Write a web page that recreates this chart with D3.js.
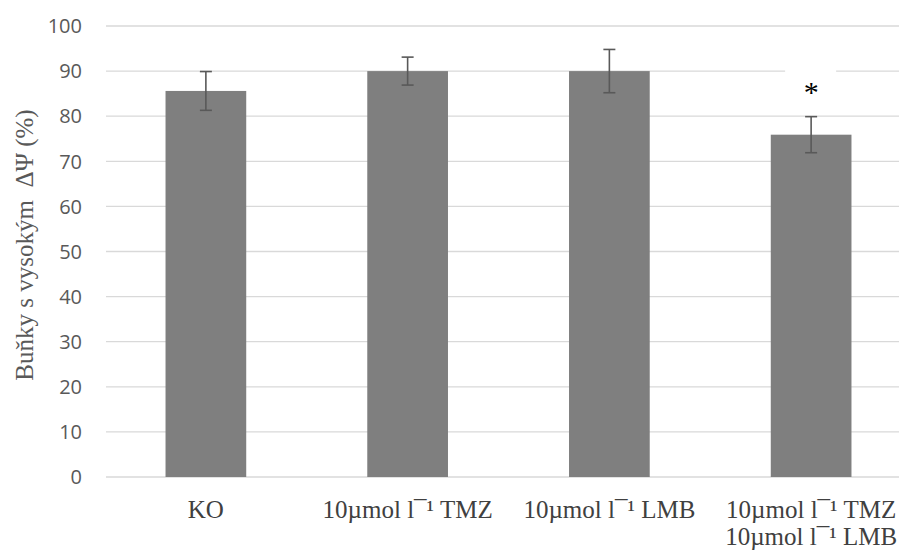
<!DOCTYPE html>
<html>
<head>
<meta charset="utf-8">
<script src="https://cdn.jsdelivr.net/npm/d3@7"></script>
<style>
  body { margin: 0; background: #fff; }
  svg { display: block; }
</style>
</head>
<body>
<div id="chart"></div>
<script>
const width = 899, height = 553;
const categories = ["KO", "TMZ", "LMB", "TMZ+LMB"];
const labels = [
  ["KO"],
  ["10µmol l¯¹ TMZ"],
  ["10µmol l¯¹ LMB"],
  ["10µmol l¯¹ TMZ", "10µmol l¯¹ LMB"]
];
const values = [85.6, 90.0, 90.0, 75.9];
const errors = [4.3, 3.1, 4.8, 4.0];
const stars = ["", "", "", "*"];
const yTicks = [0, 10, 20, 30, 40, 50, 60, 70, 80, 90, 100];

const svg = d3.select("#chart").append("svg")
  .attr("width", width)
  .attr("height", height);

const xScale = d3.scaleBand()
  .domain(categories)
  .range([105, 912])
  .paddingInner(0.6)
  .paddingOuter(0.3);

const yScale = d3.scaleLinear()
  .domain([0, 100])
  .range([477, 26]);

// gridlines
svg.append("g").selectAll("line")
  .data(yTicks)
  .enter().append("line")
  .attr("x1", 106).attr("x2", width)
  .attr("y1", d => yScale(d)).attr("y2", d => yScale(d))
  .attr("stroke", "#d9d9d9")
  .attr("stroke-width", 1.3);

// y tick labels
svg.append("g").selectAll("text")
  .data(yTicks)
  .enter().append("text")
  .attr("x", 82)
  .attr("y", d => yScale(d))
  .attr("dy", "0.36em")
  .attr("text-anchor", "end")
  .attr("font-family", "'Open Sans', 'Liberation Sans', sans-serif")
  .attr("font-size", 20)
  .attr("fill", "#595959")
  .text(d => d);

// bars
svg.append("g").selectAll("rect")
  .data(values)
  .enter().append("rect")
  .attr("x", (d, i) => xScale(categories[i]))
  .attr("y", d => yScale(d))
  .attr("width", xScale.bandwidth())
  .attr("height", d => yScale(0) - yScale(d))
  .attr("fill", "#7f7f7f");

// error bars
const eb = svg.append("g").attr("stroke", "#595959").attr("stroke-width", 1.6);
values.forEach((v, i) => {
  const cx = xScale(categories[i]) + xScale.bandwidth() / 2;
  const top = yScale(v + errors[i]), bot = yScale(v - errors[i]);
  eb.append("line").attr("x1", cx).attr("x2", cx).attr("y1", top).attr("y2", bot);
  eb.append("line").attr("x1", cx - 6).attr("x2", cx + 6).attr("y1", top).attr("y2", top);
  eb.append("line").attr("x1", cx - 6).attr("x2", cx + 6).attr("y1", bot).attr("y2", bot);
});

// significance marks
stars.forEach((s, i) => {
  if (!s) return;
  const cx = xScale(categories[i]) + xScale.bandwidth() / 2;
  svg.append("rect")
    .attr("x", cx - 26).attr("y", yScale(values[i] + errors[i]) - 50)
    .attr("width", 51).attr("height", 40)
    .attr("fill", "#fff");
  svg.append("text")
    .attr("x", cx)
    .attr("y", yScale(values[i] + errors[i]) - 15)
    .attr("text-anchor", "middle")
    .attr("font-family", "'Liberation Serif', serif")
    .attr("font-size", 30)
    .attr("fill", "#000")
    .text(s);
});

// x labels
const xl = svg.append("g");
labels.forEach((lines, i) => {
  const cx = xScale(categories[i]) + xScale.bandwidth() / 2;
  lines.forEach((t, j) => {
    xl.append("text")
      .attr("x", cx)
      .attr("y", 518 + j * 27)
      .attr("text-anchor", "middle")
      .attr("font-family", "'Liberation Serif', serif")
      .attr("font-size", 25)
      .attr("fill", "#404040")
      .text(t);
  });
});

// y axis title
svg.append("text")
  .attr("transform", "translate(33, 245) rotate(-90)")
  .attr("text-anchor", "middle")
  .attr("font-family", "'Liberation Serif', 'DejaVu Serif', serif")
  .attr("font-size", 25)
  .attr("fill", "#595959")
  .attr("xml:space", "preserve")
  .style("white-space", "pre")
  .text("Buňky s vysokým  ΔΨ (%)");
</script>
</body>
</html>
